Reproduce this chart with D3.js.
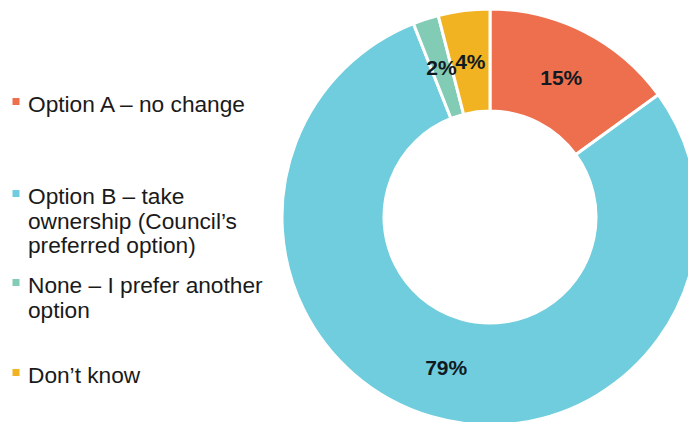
<!DOCTYPE html>
<html>
<head>
<meta charset="utf-8">
<script src="https://cdn.jsdelivr.net/npm/d3@7"></script>
<style>
  html, body { margin: 0; padding: 0; background: #fff; }
  svg { display: block; }
</style>
</head>
<body>
<svg id="chart" width="688" height="422"></svg>
<script>
// Survey responses (share of respondents, %)
const categories = [
  "Option A \u2013 no change",
  "Option B \u2013 take ownership (Council\u2019s preferred option)",
  "None \u2013 I prefer another option",
  "Don\u2019t know"
];
const values = [15, 79, 2, 4];
const colors = ["#EE6F4D", "#6FCDDD", "#82CCB6", "#F1B321"];
// Legend text, wrapped as shown
const legendLines = [
  ["Option A \u2013 no change"],
  ["Option B \u2013 take", "ownership (Council\u2019s", "preferred option)"],
  ["None \u2013 I prefer another", "option"],
  ["Don\u2019t know"]
];
const legendBaselines = [112, 204, 293, 383];

const svg = d3.select("#chart");
const cx = 490, cy = 217, outerR = 208, innerR = 106;

const data = categories.map((c, i) => ({ category: c, value: values[i], color: colors[i] }));

const pie = d3.pie().value(d => d.value).sort(null);
const arc = d3.arc().innerRadius(innerR).outerRadius(outerR);
const arcs = pie(data);

const g = svg.append("g").attr("transform", `translate(${cx},${cy})`);

g.selectAll("path.slice")
  .data(arcs)
  .join("path")
  .attr("class", "slice")
  .attr("d", arc)
  .attr("fill", d => d.data.color)
  .attr("stroke", "#fff")
  .attr("stroke-width", 3)
  .attr("stroke-linejoin", "miter");

g.selectAll("text.value")
  .data(arcs)
  .join("text")
  .attr("class", "value")
  .attr("transform", d => `translate(${arc.centroid(d)})`)
  .attr("text-anchor", "middle")
  .attr("dy", "0.36em")
  .attr("font-family", "Liberation Sans, Arial, sans-serif")
  .attr("font-weight", "bold")
  .attr("font-size", 21)
  .attr("fill", "#111a22")
  .text(d => d.data.value + "%");

// Legend
const legend = svg.append("g").attr("class", "legend");
const lineH = 24.5;
data.forEach((d, i) => {
  const base = legendBaselines[i];
  legend.append("rect")
    .attr("x", 12.5)
    .attr("y", base - 14)
    .attr("width", 7)
    .attr("height", 7)
    .attr("fill", d.color);
  const t = legend.append("text")
    .attr("x", 28)
    .attr("y", base)
    .attr("font-family", "Liberation Sans, Arial, sans-serif")
    .attr("font-size", 22.7)
    .attr("fill", "#1a1a1a");
  legendLines[i].forEach((line, j) => {
    t.append("tspan")
      .attr("x", 28)
      .attr("y", base + j * lineH)
      .text(line);
  });
});
</script>
</body>
</html>
